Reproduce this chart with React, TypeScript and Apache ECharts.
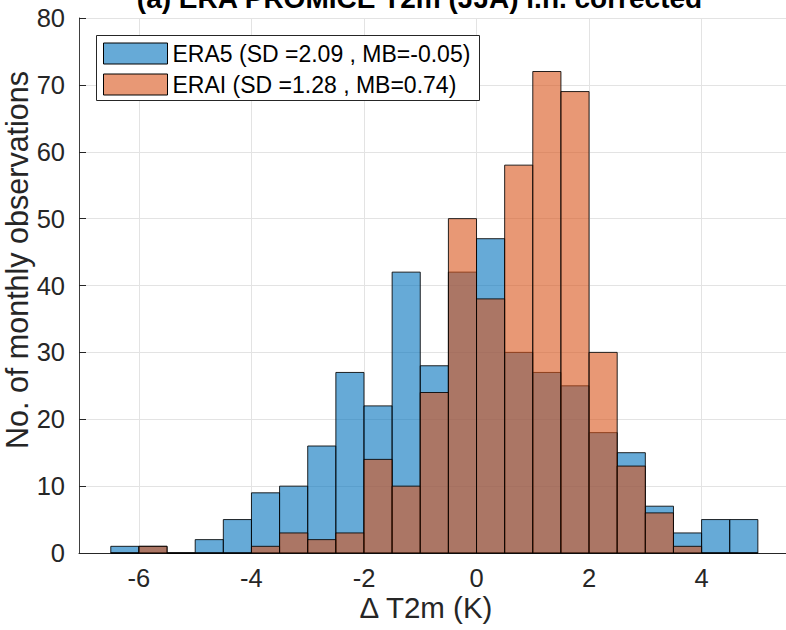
import React, { useEffect, useRef } from "react";
import * as echarts from "echarts";

const binLeft = [-6.5, -6, -5.5, -5, -4.5, -4, -3.5, -3, -2.5, -2, -1.5, -1, -0.5, 0, 0.5, 1, 1.5, 2, 2.5, 3, 3.5, 4, 4.5];
const binWidth = 0.5;
const era5Counts = [1, 1, 0, 2, 5, 9, 10, 16, 27, 22, 42, 28, 42, 47, 30, 27, 25, 18, 15, 7, 3, 5, 5];
const eraiCounts = [0, 1, 0, 0, 0, 1, 3, 2, 3, 14, 10, 24, 50, 38, 58, 72, 69, 30, 13, 6, 1, 0, 0];
const xTicks = [-6, -4, -2, 0, 2, 4];
const era5Name = "ERA5 (SD =2.09 , MB=-0.05)";
const eraiName = "ERAI (SD =1.28 , MB=0.74)";
const titleText = "(a) ERA PROMICE T2m (JJA) i.h. corrected";
const xLabelText = "\u0394 T2m (K)";
const yLabelText = "No. of monthly observations";

const FONT = "'Liberation Sans', Arial, Helvetica, sans-serif";

function histSeries(name: string, counts: number[], fill: string, z: number) {
  return {
    type: "custom",
    name,
    z,
    data: binLeft.map((b, i) => [b, b + binWidth, counts[i]]),
    encode: { x: [0, 1], y: 2 },
    itemStyle: { color: fill },
    renderItem: (params: any, api: any) => {
      const x0 = api.value(0);
      const x1 = api.value(1);
      const v = api.value(2);
      const p0 = api.coord([x0, v]);
      const p1 = api.coord([x1, 0]);
      return {
        type: "rect",
        shape: { x: p0[0], y: p0[1], width: p1[0] - p0[0], height: p1[1] - p0[1] },
        style: { fill, stroke: "rgba(0,0,0,0.85)", lineWidth: 1 },
      };
    },
  };
}

export default function App() {
  const ref = useRef<HTMLDivElement>(null);
  useEffect(() => {
    if (!ref.current) return;
    const chart = echarts.init(ref.current, undefined, { renderer: "svg" });
    chart.setOption({
      animation: false,
      textStyle: { fontFamily: FONT },
      grid: { left: 79, top: 18, right: 0, bottom: 77, containLabel: false },
      xAxis: {
        type: "value",
        min: -7.065,
        max: 5.5,
        axisLine: { show: true, onZero: false, lineStyle: { color: "#262626", width: 1 } },
        axisTick: { show: true, inside: true, length: 7, customValues: xTicks, lineStyle: { color: "#262626" } },
        axisLabel: { customValues: xTicks, fontSize: 25.5, color: "#262626", margin: 12, fontFamily: FONT },
        splitLine: { show: false },
      },
      yAxis: {
        type: "value",
        min: 0,
        max: 80,
        interval: 10,
        axisLine: { show: true, onZero: false, lineStyle: { color: "#404040", width: 1 } },
        axisTick: { show: true, inside: true, length: 7, lineStyle: { color: "#262626" } },
        axisLabel: { fontSize: 25.5, color: "#262626", margin: 14, fontFamily: FONT },
        splitLine: { show: true, lineStyle: { color: "#e3e3e3", width: 1 } },
      },
      legend: {
        show: true,
        orient: "vertical",
        left: 103,
        top: 42,
        padding: 0,
        itemWidth: 64,
        itemHeight: 21,
        itemGap: 8,
        icon: "rect",
        z: 11,
        textStyle: { fontSize: 23, color: "#000", fontFamily: FONT },
        itemStyle: { borderColor: "#000", borderWidth: 1 },
        data: [
          { name: era5Name, itemStyle: { color: "#66AAD7", borderColor: "#000", borderWidth: 1, opacity: 1 } },
          { name: eraiName, itemStyle: { color: "#E89875", borderColor: "#000", borderWidth: 1, opacity: 1 } },
        ],
      },
      graphic: [
        {
          type: "rect",
          z: 10,
          shape: { x: 96.5, y: 35.5, width: 383, height: 65 },
          style: { fill: "#fff", stroke: "#262626", lineWidth: 1 },
        },
        {
          type: "text",
          z: 10,
          x: 419.5,
          y: -2,
          style: {
            text: titleText,
            fontSize: 28,
            fontWeight: "bold",
            fontFamily: FONT,
            fill: "#000",
            align: "center",
            verticalAlign: "middle",
          },
        },
        {
          type: "text",
          z: 10,
          x: 426,
          y: 607,
          style: {
            text: xLabelText,
            fontSize: 29.5,
            fontFamily: FONT,
            fill: "#262626",
            align: "center",
            verticalAlign: "middle",
          },
        },
        {
          type: "text",
          z: 10,
          x: 17,
          y: 260,
          rotation: Math.PI / 2,
          style: {
            text: yLabelText,
            fontSize: 30.5,
            fontFamily: FONT,
            fill: "#262626",
            align: "center",
            verticalAlign: "middle",
          },
        },
      ],
      series: [
        {
          type: "line",
          z: 1,
          data: [],
          silent: true,
          markLine: {
            silent: true,
            z: 1,
            symbol: ["none", "none"],
            label: { show: false },
            lineStyle: { color: "#e3e3e3", width: 1, type: "solid" },
            data: xTicks.map((v) => ({ xAxis: v })),
          },
        },
        histSeries(era5Name, era5Counts, "rgba(0,114,189,0.6)", 3),
        histSeries(eraiName, eraiCounts, "rgba(217,83,25,0.6)", 4),
      ],
    });
    return () => chart.dispose();
  }, []);
  return (
    <div
      ref={ref}
      style={{ position: "fixed", left: 0, top: 0, width: 786, height: 630, background: "#fff" }}
    />
  );
}
